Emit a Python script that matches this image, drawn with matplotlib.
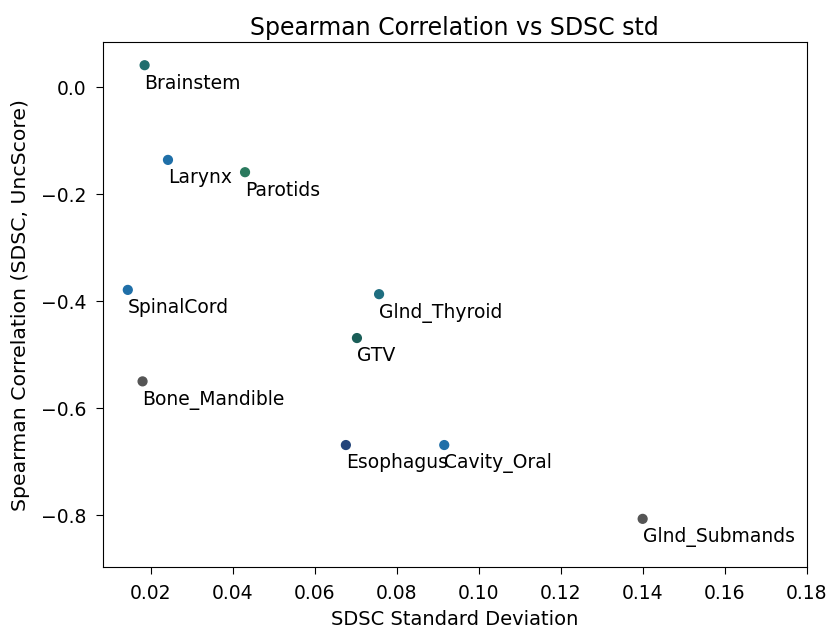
import matplotlib
matplotlib.use('Agg')
import matplotlib.pyplot as plt

# structure names, SDSC std and Spearman correlation
structures = ['Brainstem', 'Larynx', 'Parotids', 'SpinalCord', 'Glnd_Thyroid',
              'GTV', 'Bone_Mandible', 'Esophagus', 'Cavity_Oral', 'Glnd_Submands']
sdsc_std = [0.0185, 0.0242, 0.043, 0.0144, 0.0757,
            0.0703, 0.018, 0.0676, 0.0916, 0.140]
spearman = [0.041, -0.136, -0.159, -0.379, -0.387,
            -0.469, -0.550, -0.669, -0.669, -0.807]
point_colors = ['#1f6e6e', '#1f6fa8', '#2a7a5e', '#1f6fa8', '#1f6e80',
                '#1a5e58', '#555555', '#24457a', '#1f6fa8', '#555555']

plt.rcParams['font.size'] = 13.5

fig = plt.figure(figsize=(8.29, 6.30), dpi=100)
ax = fig.add_subplot(111)
fig.subplots_adjust(left=0.124, right=0.973, bottom=0.10, top=0.933)

ax.scatter(sdsc_std, spearman, c=point_colors, s=40, zorder=3)
for name, x, y in zip(structures, sdsc_std, spearman):
    ax.annotate(name, (x, y), xytext=(0, -6), textcoords='offset points',
                ha='left', va='top', fontsize=13.5)

ax.set_xlim(0.0083, 0.18)
ax.set_ylim(-0.897, 0.084)
ax.set_xticks([0.02, 0.04, 0.06, 0.08, 0.10, 0.12, 0.14, 0.16, 0.18])
ax.set_yticks([0.0, -0.2, -0.4, -0.6, -0.8])
ax.tick_params(labelsize=13.5, length=5, pad=7)

ax.set_title('Spearman Correlation vs SDSC std', fontsize=17, pad=5)
ax.set_xlabel('SDSC Standard Deviation', fontsize=14, labelpad=5.5)
ax.set_ylabel('Spearman Correlation (SDSC, UncScore)', fontsize=14.7,
              labelpad=8)

fig.savefig('out.png', dpi=100)
